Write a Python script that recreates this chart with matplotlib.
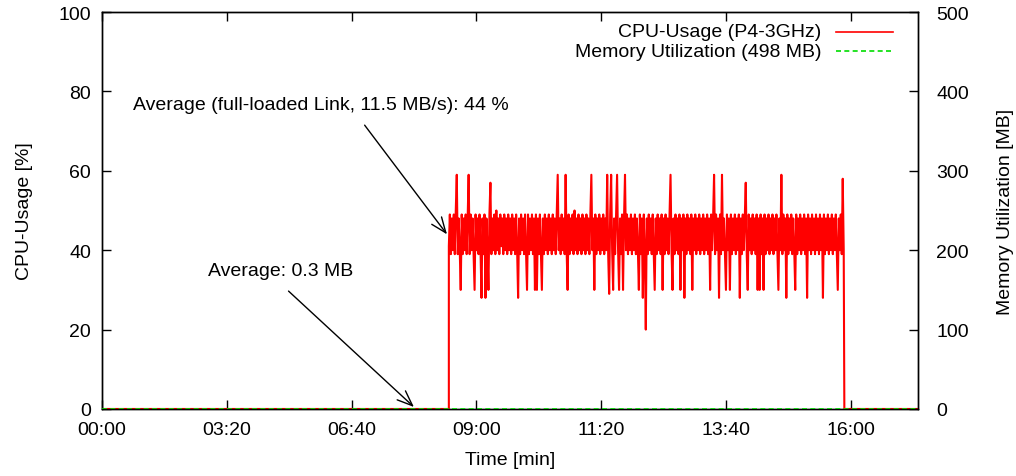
import numpy as np
import matplotlib
matplotlib.use("Agg")
import matplotlib.pyplot as plt

plt.rcParams['font.family'] = ['Liberation Sans', 'DejaVu Sans']
plt.rcParams['font.size'] = 14

# x ticks (seconds) and their labels as printed on the chart
x_ticks = [0, 200, 400, 600, 800, 1000, 1200]
x_labels = ['00:00', '03:20', '06:40', '09:00', '11:20', '13:40', '16:00']
x_max = 1308

# CPU load period (%)
cpu_start = 556
cpu_end = 1189
cpu_values = [
    41, 49, 39, 48, 40, 49, 39, 50, 59, 39, 48, 40, 30, 49, 39, 48, 40, 49, 39, 48,
    59, 39, 49, 40, 48, 39, 30, 49, 40, 48, 39, 49, 40, 28, 48, 39, 49, 28, 48, 40,
    30, 49, 57, 39, 48, 40, 49, 39, 50, 40, 48, 39, 49, 41, 48, 39, 49, 40, 48, 39,
    49, 40, 48, 39, 49, 40, 48, 39, 49, 40, 28, 48, 39, 49, 40, 48, 39, 49, 40, 30,
    49, 39, 48, 40, 49, 39, 48, 30, 49, 30, 48, 39, 49, 40, 30, 48, 39, 49, 40, 48,
    39, 49, 40, 48, 39, 49, 40, 48, 39, 49, 59, 40, 48, 39, 49, 40, 48, 39, 59, 40,
    30, 49, 39, 48, 40, 49, 39, 50, 40, 48, 39, 49, 40, 48, 39, 49, 40, 48, 39, 49,
    40, 48, 39, 49, 59, 40, 48, 30, 49, 39, 48, 40, 49, 39, 48, 40, 49, 39, 48, 40,
    59, 39, 29, 49, 59, 40, 30, 48, 39, 49, 59, 40, 30, 48, 39, 49, 30, 48, 59, 40,
    49, 39, 48, 40, 49, 39, 48, 40, 49, 39, 48, 40, 30, 49, 39, 48, 28, 49, 40, 20,
    48, 39, 49, 40, 48, 39, 49, 40, 30, 48, 39, 49, 40, 48, 39, 49, 30, 48, 39, 49,
    40, 48, 39, 49, 59, 40, 30, 48, 39, 49, 40, 48, 39, 49, 30, 48, 40, 49, 28, 48,
    39, 49, 40, 48, 39, 49, 30, 48, 40, 49, 39, 48, 40, 49, 39, 48, 40, 49, 39, 48,
    40, 49, 39, 48, 30, 49, 40, 48, 59, 39, 49, 40, 48, 28, 49, 39, 59, 40, 48, 39,
    30, 49, 40, 48, 30, 49, 39, 48, 40, 49, 39, 48, 40, 49, 28, 48, 39, 49, 40, 48,
    57, 39, 30, 49, 40, 48, 39, 49, 40, 48, 39, 49, 30, 48, 30, 49, 39, 48, 30, 49,
    39, 48, 40, 49, 39, 48, 40, 49, 39, 48, 40, 49, 39, 30, 48, 40, 59, 39, 49, 40,
    48, 28, 49, 39, 48, 40, 49, 39, 48, 40, 30, 49, 39, 48, 40, 49, 39, 48, 40, 49,
    39, 48, 28, 49, 40, 48, 39, 49, 40, 48, 39, 49, 40, 48, 39, 49, 40, 48, 28, 49,
    39, 48, 40, 49, 39, 48, 40, 49, 39, 48, 40, 49, 39, 30, 48, 40, 49, 39, 58, 40,
]

# memory utilization (MB), flat near zero
mem_t = [0, cpu_start, cpu_end, x_max]
mem_values = [0.3, 0.3, 0.3, 0.3]

cpu_t = np.linspace(cpu_start, cpu_end, len(cpu_values))
t_all = np.concatenate([[0, cpu_start], cpu_t, [cpu_end + 1, x_max]])
cpu_all = np.concatenate([[0, 0], cpu_values, [0, 0]])

red = '#ff0000'
green = '#00dd00'
dash = (0, (3, 2))

fig = plt.figure(figsize=(10.16, 4.77), dpi=100)
ax = fig.add_axes([0.1004, 0.1405, 0.8031, 0.8322])
ax2 = ax.twinx()

ax.plot(t_all, cpu_all, color=red, lw=1.5, zorder=3)
ax2.plot(mem_t, mem_values, color=green, lw=1.2, ls=dash, zorder=4)

ax.set_xlim(0, x_max)
ax.set_ylim(0, 100)
ax2.set_ylim(0, 500)
ax.set_xticks(x_ticks)
ax.set_xticklabels(x_labels)
ax.set_yticks(range(0, 101, 20))
ax2.set_yticks(range(0, 501, 100))

ax.tick_params(direction='in', length=6.5, width=1, top=True)
ax.tick_params(axis='x', pad=9)
ax.tick_params(axis='y', pad=8)
ax2.tick_params(direction='in', length=6.5, width=1, pad=13)

ax.set_xlabel('Time [min]', labelpad=9)
ax.set_ylabel('CPU-Usage [%]', labelpad=18)
ax2.set_ylabel('Memory Utilization [MB]', labelpad=20)

# annotations with arrows
ax.text(50, 76.6, 'Average (full-loaded Link, 11.5 MB/s): 44 %', ha='left', va='center')
ax.annotate('', xy=(553, 44), xytext=(421, 71.5),
            arrowprops=dict(arrowstyle='->,head_length=0.55,head_width=0.22',
                            color='black', lw=1, mutation_scale=20,
                            shrinkA=0, shrinkB=0))
ax.text(170, 34.8, 'Average: 0.3 MB', ha='left', va='center')
ax.annotate('', xy=(500, 0.5), xytext=(299, 29.7),
            arrowprops=dict(arrowstyle='->,head_length=0.55,head_width=0.22',
                            color='black', lw=1, mutation_scale=20,
                            shrinkA=0, shrinkB=0))

# gnuplot-style key: text right-aligned, sample line to its right
key_labels = ['CPU-Usage (P4-3GHz)', 'Memory Utilization (498 MB)']
key_styles = [dict(color=red, ls='-'), dict(color=green, ls=dash)]
for i, (lab, st) in enumerate(zip(key_labels, key_styles)):
    yk = 0.950 - i * 0.049
    ax.text(0.882, yk, lab, transform=ax.transAxes, ha='right', va='center')
    ax.plot([0.900, 0.969], [yk, yk], transform=ax.transAxes, lw=1.2, **st)

for a in (ax, ax2):
    for s in a.spines.values():
        s.set_linewidth(1)

fig.savefig('out.png', dpi=100)
